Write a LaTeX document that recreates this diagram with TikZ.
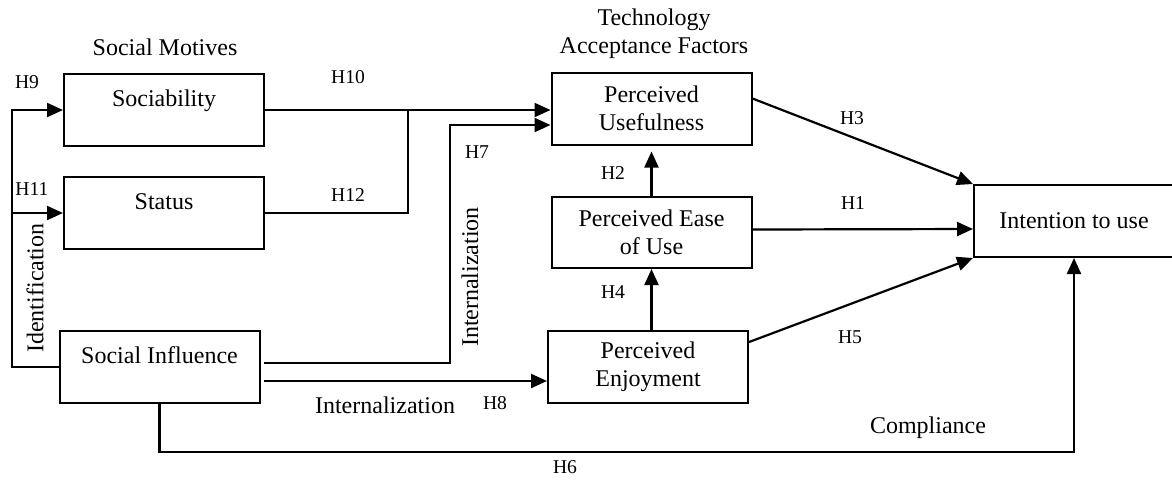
\documentclass[tikz,border=0pt]{standalone}
\usepackage{fontspec}
\setmainfont{Liberation Serif}
\usetikzlibrary{arrows.meta}

\begin{document}
\begin{tikzpicture}[x=0.5pt,y=-0.5pt,
  bx/.style={draw,line width=1pt,minimum width=100pt,minimum height=36pt,inner sep=0pt,
    align=center,font=\fontsize{12}{14}\selectfont},
  bxup/.style={bx,text height=8pt,text depth=12pt},
  ln/.style={line width=1.1pt},
  arr/.style={ln,-{Triangle[length=8pt,width=7pt]}},
  lbl/.style={font=\fontsize{12}{14}\selectfont,inner sep=0pt},
  hl/.style={font=\fontsize{9.8}{11}\selectfont,inner sep=0pt}]
  \useasboundingbox (0,0) rectangle (1172,479);
  % social motives
  \node[lbl] (motives) at (165,47) {Social Motives};
  \node[bxup] (soc) at (164,110) {Sociability};
  \node[bxup] (stat) at (164,213) {Status};
  \node[bxup] (si) at (159.5,367) {Social Influence};
  % technology acceptance factors
  \node[lbl,align=center] (tam) at (654,34) {Technology\\Acceptance Factors};
  \node[bx] (pu) at (651.5,108.5) {Perceived\\Usefulness};
  \node[bx,minimum height=35.5pt] (peou) at (651.5,232.5) {Perceived Ease\\of Use};
  \node[bx] (pe) at (648,367) {Perceived\\Enjoyment};
  \node[bx] (itu) at (1074,221) {Intention to use};
  % identification
  \coordinate (idx) at (12,0);
  \draw[arr] (si.west) -| (idx |- soc.west) -- (soc.west);
  \draw[arr] (idx |- stat.west) -- (stat.west);
  % motives -> usefulness
  \coordinate (jn) at (408,110);
  \draw[arr] (soc.east) -- (soc.east -| pu.west);
  \draw[ln] (stat.east) -| (jn);
  % internalization
  \coordinate (bk) at (450,125);
  \draw[arr] ([xshift=1.5pt,yshift=2pt]si.east) -| (bk) -- (bk -| pu.west);
  \draw[arr] ([xshift=1.5pt,yshift=-7pt]si.east) -- ([yshift=-7pt]pe.west);
  % compliance
  \draw[arr] (si.south) -- ++(0,48) -| (itu.south);
  % TAM paths
  \draw[arr] (peou.north) -- ([yshift=-3pt]pu.south);
  \draw[arr] (pe.north -| peou.north) -- (peou.south);
  \draw[arr] ([yshift=5pt]pu.east) -- (itu.north west);
  \draw[arr] ([yshift=1.5pt]peou.east) -- ([yshift=-4pt]itu.west);
  \draw[arr] ([yshift=12.5pt]pe.east) -- (itu.south west);
  % path labels
  \node[lbl,rotate=90] (ident) at (35,288) {Identification};
  \node[lbl,rotate=90] (intv) at (470,277) {Internalization};
  \node[lbl] (inth) at (385,405) {Internalization};
  \node[lbl] (compl) at (928,428) {Compliance};
  \node[hl] (h9) at (27,82) {H9};
  \node[hl] (h10) at (348,77) {H10};
  \node[hl] (h11) at (32,189) {H11};
  \node[hl] (h12) at (348,195) {H12};
  \node[hl] (h7) at (477,152) {H7};
  \node[hl] (h2) at (613,173) {H2};
  \node[hl] (h3) at (852,118) {H3};
  \node[hl] (h1) at (853,203) {H1};
  \node[hl] (h4) at (613,292) {H4};
  \node[hl] (h5) at (850,337) {H5};
  \node[hl] (h8) at (495,403) {H8};
  \node[hl] (h6) at (565,467) {H6};
\end{tikzpicture}
\end{document}
